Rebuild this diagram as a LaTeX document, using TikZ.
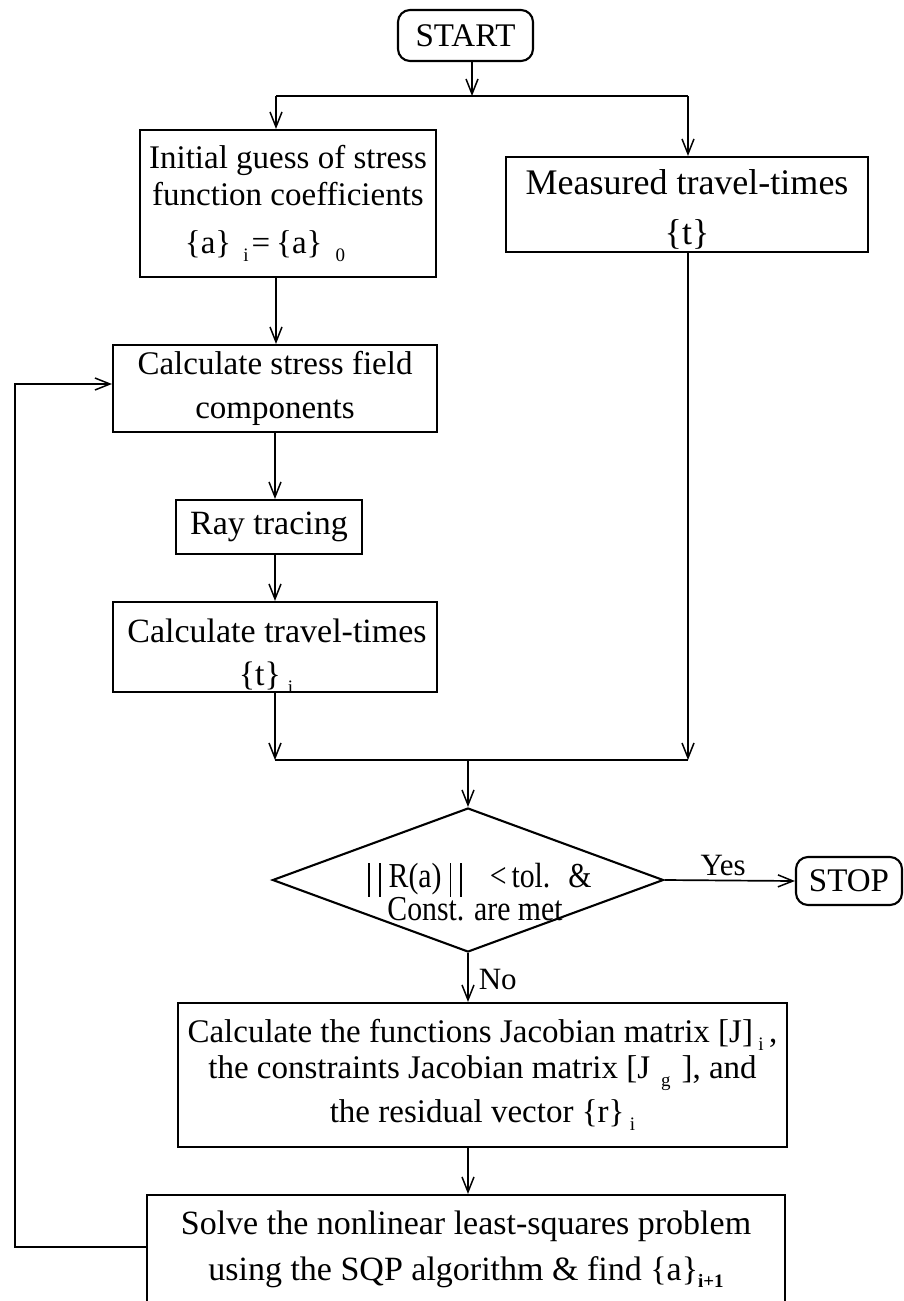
\documentclass[tikz,border=0pt]{standalone}
\usepackage{fontspec}
\setmainfont{Liberation Serif}
\newfontfamily\narrowserif[FakeStretch=0.85]{Liberation Serif}
\usetikzlibrary{shapes.geometric,arrows.meta}

% small lowered index, as set after braces and brackets
\newcommand\lowsub[1]{\raisebox{-8pt}{\fontsize{19}{19}\selectfont #1}}
% tall double bar of the norm
\newcommand\normbar{\rule[-9pt]{1.6pt}{34pt}\hspace{9pt}\rule[-9pt]{1.6pt}{34pt}}

\begin{document}
\begin{tikzpicture}[x=1pt,y=-1pt,line width=1.7pt,
  txt/.style={font=\fontsize{33}{37}\selectfont},
  box/.style={draw,rectangle,inner sep=0pt,align=center,line width=2.1pt,txt},
  term/.style={draw,rectangle,rounded corners=12pt,inner sep=0pt,line width=2.1pt,txt},
  boxtext/.style={inner sep=0pt,align=center},
  lbl/.style={font=\fontsize{31}{33}\selectfont,inner sep=4pt},
  arr/.style={-{Straight Barb[length=15pt,width=12pt,line width=1.5pt]}}]

\useasboundingbox (0,0) rectangle (904,1301);
\clip (0,0) rectangle (904,1301);

% terminals
\node[term,minimum width=135pt,minimum height=51pt] (start) at (465.5,35.5) {START};
\node[term,minimum width=106pt,minimum height=48pt] (stop) at (849,881) {STOP};

% process boxes
\node[box,minimum width=296pt,minimum height=147pt] (init) at (288,203.5)
  {Initial guess of stress\\function coefficients\\[11pt]
   \{a\}\hspace{12pt}\lowsub{i}\hspace{3pt}=\hspace{6pt}\{a\}\hspace{13pt}\lowsub{0}\hspace*{46pt}};
\node[box,minimum width=362pt,minimum height=95pt,font=\fontsize{36}{38}\selectfont] (meas) at (687,204.5)
  {\rule{0pt}{34pt}Measured travel-times\\[12pt]\{t\}};
\node[box,minimum width=324pt,minimum height=87pt] (field) at (275,388.5)
  {Calculate stress field\\[7pt]components};
\node[box,minimum width=186pt,minimum height=54pt,font=\fontsize{34}{37}\selectfont] (ray) at (269,527)
  {Ray tracing};
\node[box,minimum width=324pt,minimum height=90pt] (times) at (275,647) {};
\node[boxtext,font=\fontsize{34}{37}\selectfont] (timestext) at (277,656)
  {Calculate travel-times\\[6pt]\{t\}\hspace{7pt}\lowsub{i}\hspace*{22pt}};

% decision
\node[draw,diamond,inner sep=0pt,minimum width=391pt,minimum height=144pt,line width=2.1pt] (dec) at (468,880) {};
\node[boxtext,font=\narrowserif\fontsize{35}{32}\selectfont] (dectext) at (480,892)
  {\normbar\hspace{8pt}R(a)\hspace{8pt}\normbar\hspace{28pt}{<}\hspace{5pt}tol.\hspace{18pt}\&\\
   \hspace*{-10pt}Const. are met};

\node[box,minimum width=609pt,minimum height=144pt,font=\fontsize{33}{36}\selectfont] (jac) at (482.5,1075)
  {Calculate the functions Jacobian matrix [J]\,\lowsub{i}\,,\\
   the constraints Jacobian matrix [J\,\,\lowsub{g}\,\,], and\\[8pt]
   the residual vector \{r\}\,\lowsub{i}};
\node[box,minimum width=638pt,minimum height=108pt,font=\fontsize{34}{37}\selectfont] (solve) at (466,1249)
  {Solve the nonlinear least-squares problem\\[9pt]
   using the SQP algorithm \& find \{a\}\raisebox{-7pt}{\fontsize{19}{19}\selectfont\bfseries i+1}};

% junction points
\coordinate (sl) at (276,96);
\coordinate (sr) at (688,96);
\coordinate (split) at (472,96);
\coordinate (col) at (275,0);
\coordinate (ml) at (275,760);
\coordinate (mr) at (688,760);
\coordinate (mm) at (468,760);
\coordinate (loopb) at (15,1247);
\coordinate (loopt) at (15,384);

% connectors
\draw[arr] (start.south -| split) -- (split);
\draw (sl) -- (sr);
\draw[arr] (sl) -- (sl |- init.north);
\draw[arr] (sr) -- (sr |- meas.north);
\draw[arr] (init.south -| sl) -- (sl |- field.north);
\draw[arr] (field.south -| col) -- (col |- ray.north);
\draw[arr] (ray.south -| col) -- (col |- times.north);
\draw[arr] (times.south -| ml) -- (ml);
\draw[arr] (meas.south -| mr) -- (mr);
\draw (ml) -- (mr);
\draw[arr] (mm) -- (dec.north);
\draw[arr] (dec.east) -- node[lbl,above,pos=0.45]{Yes} (stop.west);
\draw[arr] (dec.south) -- node[lbl,right,pos=0.55,xshift=6pt]{No} (dec.south |- jac.north);
\draw[arr] (jac.south -| dec.south) -- (dec.south |- solve.north);
\draw[arr] (solve.west |- loopb) -- (loopb) -- (loopt) -- (field.west |- loopt);

\end{tikzpicture}
\end{document}
